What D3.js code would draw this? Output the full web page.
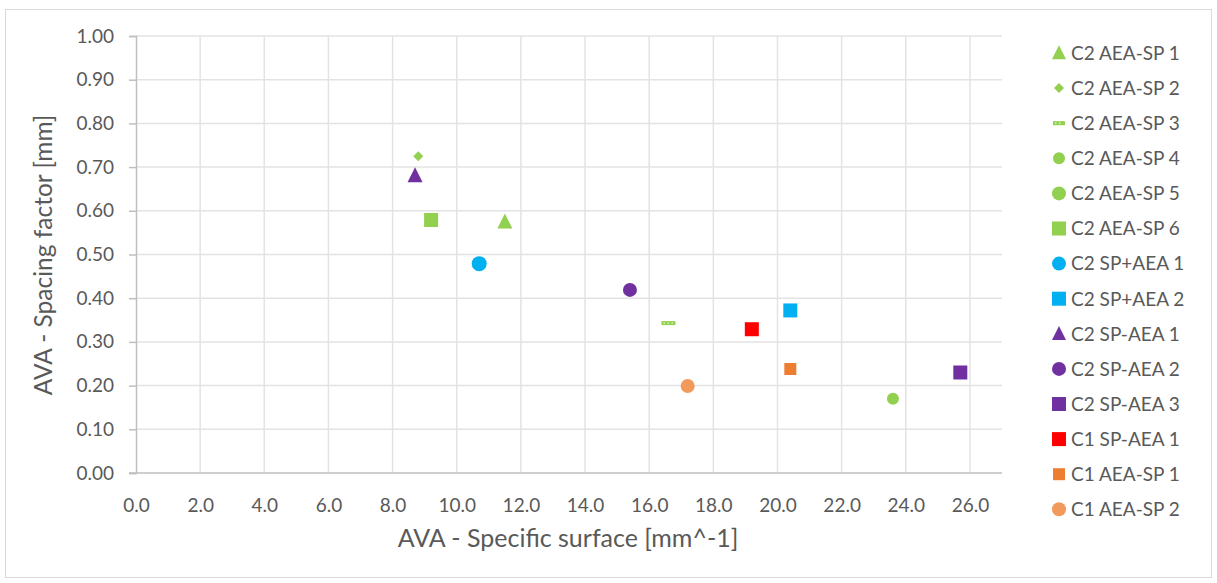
<!DOCTYPE html>
<html><head><meta charset="utf-8">
<script src="https://cdn.jsdelivr.net/npm/d3@7"></script>
<style>body{margin:0;background:#fff}svg{display:block}text{font-family:Lato,"Open Sans",sans-serif;fill:#595959}</style>
</head><body><svg id="c" width="1217" height="583"></svg>
<script>
const seriesNames = ["C2 AEA-SP 1","C2 AEA-SP 2","C2 AEA-SP 3","C2 AEA-SP 4","C2 AEA-SP 5","C2 AEA-SP 6","C2 SP+AEA 1","C2 SP+AEA 2","C2 SP-AEA 1","C2 SP-AEA 2","C2 SP-AEA 3","C1 SP-AEA 1","C1 AEA-SP 1","C1 AEA-SP 2"];
const seriesColors = ["#92D050","#92D050","#92D050","#92D050","#92D050","#92D050","#00B0F0","#00B0F0","#7030A0","#7030A0","#7030A0","#FF0000","#ED7D31","#F19A5B"];
const seriesShapes = ["triangle","diamond","dash","circle","circle","square","circle","square","triangle","circle","square","square","square","circle"];
const markerSizes = [15,10,14,12,15,14,15,14,15,14,14,14,12,14];
const xValues = [[11.5],[8.8],[16.6],[23.6],[],[9.2],[10.7],[20.4],[8.7],[15.4],[25.7],[19.2],[20.4],[17.2]];
const yValues = [[0.575],[0.725],[0.343],[0.170],[],[0.579],[0.479],[0.372],[0.681],[0.419],[0.230],[0.329],[0.238],[0.199]];
const xTicks = d3.range(0, 27, 2);
const yTicks = d3.range(0, 11).map(i => i / 10);

const svg = d3.select("#c");
svg.append("rect").attr("x",5.5).attr("y",9.5).attr("width",1206).attr("height",568).attr("fill","#fff").attr("stroke","#D9D9D9");

const x = d3.scaleLinear().domain([0, 27]).range([136, 1002]);
const y = d3.scaleLinear().domain([0, 1]).range([473, 36]);

// gridlines
svg.append("g").selectAll("line").data(xTicks.filter(d=>d>0)).join("line")
  .attr("x1",d=>x(d)).attr("x2",d=>x(d)).attr("y1",y(1)).attr("y2",y(0))
  .attr("stroke","#E3E3E3").attr("stroke-width",1.5);
svg.append("g").selectAll("line").data(yTicks.filter(d=>d>0)).join("line")
  .attr("x1",x(0)).attr("x2",x(27)).attr("y1",d=>y(d)).attr("y2",d=>y(d))
  .attr("stroke","#E3E3E3").attr("stroke-width",1.5);

// axes
const gy = svg.append("g").attr("transform",`translate(${x(0)},0)`)
  .call(d3.axisLeft(y).tickValues(yTicks).tickFormat(d3.format(".2f")).tickSizeOuter(0).tickSize(7).tickPadding(15));
gy.select(".domain").attr("stroke","#BFBFBF").attr("stroke-width",1.5);
gy.selectAll(".tick line").attr("stroke","#BFBFBF").attr("stroke-width",1.5);
gy.selectAll("text").attr("font-size",19).attr("fill","#595959").attr("font-family","Lato, sans-serif");

const gx = svg.append("g").attr("transform",`translate(0,${y(0)})`)
  .call(d3.axisBottom(x).tickValues(xTicks).tickFormat(d3.format(".1f")).tickSize(0).tickPadding(26).tickSizeOuter(0));
gx.select(".domain").attr("stroke","#BFBFBF").attr("stroke-width",1.5).attr("d",`M129,0H${x(27)}`);
gx.selectAll("text").attr("font-size",19).attr("fill","#595959").attr("font-family","Lato, sans-serif");

// titles
svg.append("text").attr("x",568).attr("y",547).attr("text-anchor","middle").attr("font-size",25).text("AVA - Specific surface [mm^-1]");
svg.append("text").attr("transform","translate(52,255) rotate(-90)").attr("text-anchor","middle").attr("font-size",24.5).text("AVA - Spacing factor [mm]");

function drawMarker(g, shape, color, s) {
  if (shape === "circle") g.append("circle").attr("r", s/2).attr("fill", color);
  else if (shape === "square") g.append("rect").attr("x",-s/2).attr("y",-s/2).attr("width",s).attr("height",s).attr("fill",color);
  else if (shape === "triangle") g.append("path").attr("d",`M0,${-s*0.55}L${s/2},${s*0.45}L${-s/2},${s*0.45}Z`).attr("fill",color);
  else if (shape === "diamond") g.append("path").attr("d",`M0,${-s/2}L${s/2},0L0,${s/2}L${-s/2},0Z`).attr("fill",color);
  else if (shape === "dash") {
    g.append("rect").attr("x",-s/2).attr("y",-2).attr("width",s).attr("height",4).attr("fill",color);
    g.append("line").attr("x1",-s/2+2).attr("x2",s/2-2).attr("y1",0).attr("y2",0).attr("stroke","#fff").attr("stroke-width",1).attr("stroke-dasharray","1.5,2.5");
  }
}

// points
seriesNames.forEach((name, i) => {
  xValues[i].forEach((xv, j) => {
    const g = svg.append("g").attr("transform",`translate(${x(xv)},${y(yValues[i][j])})`);
    drawMarker(g, seriesShapes[i], seriesColors[i], markerSizes[i]);
  });
});

// legend
const lg = svg.append("g");
seriesNames.forEach((name, i) => {
  const yy = 53 + i*35.1;
  const g = lg.append("g").attr("transform",`translate(1059,${yy})`);
  const ls = seriesShapes[i]==="diamond" ? 10 : (seriesShapes[i]==="dash" ? 12 : (i===3||i===12 ? 12 : 14));
  drawMarker(g, seriesShapes[i], seriesColors[i], ls);
  lg.append("text").attr("x",1071).attr("y",yy).attr("dy","0.36em").attr("font-size",19).text(name);
});
</script></body></html>
